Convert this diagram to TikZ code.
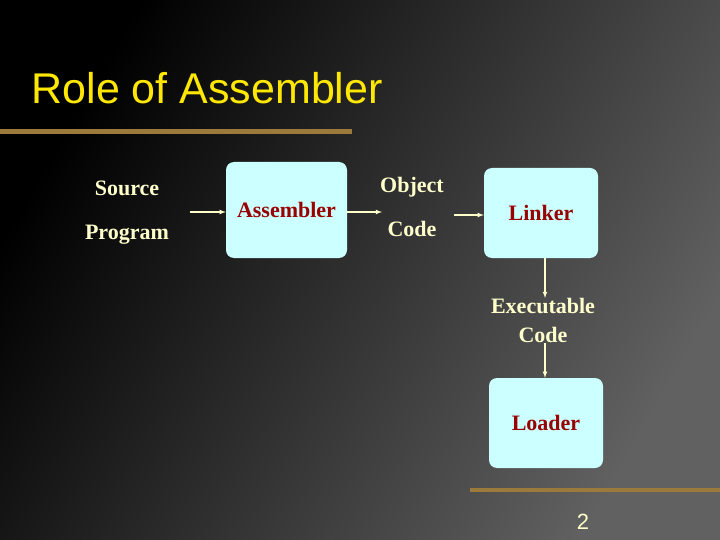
\documentclass[tikz,border=0pt]{standalone}
\usepackage{fontspec}
\setmainfont{Liberation Serif}
\newfontfamily\titlefont{Liberation Sans}
\usetikzlibrary{positioning}
\definecolor{cream}{HTML}{FFFFCC}
\definecolor{darkred}{HTML}{990000}
\definecolor{boxcyan}{HTML}{CCFFFF}
\definecolor{bargold}{HTML}{9C7A3C}

\tikzset{
	stage/.style={draw=none,fill=boxcyan,rounded corners=8pt,
		font=\fontsize{22}{26}\selectfont\bfseries,text=darkred},
	annot/.style={font=\fontsize{22}{44}\selectfont\bfseries,text=cream,align=center},
	flow/.style={-latex,cream,line width=1.1pt}
}

\begin{document}
\begin{tikzpicture}[x=1pt,y=-1pt]
	\useasboundingbox (0,0) rectangle (720,540);
	\shade[shading=axis,top color=black,bottom color=black!62!white,shading angle=60] (0,0) rectangle (720,540);
	\fill[bargold] (0,129) rectangle (352,134);
	\fill[bargold] (470,488) rectangle (720,492);
	\node[anchor=west,font=\titlefont\fontsize{43}{48}\selectfont,text=yellow!90!orange] (title) at (28,88) {Role of Assembler};
	\node[annot] (source) at (127,213) {Source\\Program};
	\node[stage,minimum width=121pt,minimum height=96pt] (assembler) at (286.5,210) {Assembler};
	\node[annot] (object) at (412,207) {Object\\Code};
	\node[stage,minimum width=114pt,minimum height=90pt] (linker) at (541,213) {Linker};
	\node[annot,font=\fontsize{22}{29}\selectfont\bfseries] (exec) at (543,320) {Executable\\Code};
	\node[stage,minimum width=114pt,minimum height=90pt] (loader) at (546,423) {Loader};
	\node[font=\titlefont\fontsize{22}{24}\selectfont,text=cream] (page) at (583,522) {2};
	\coordinate (in) at (190,212);
	\coordinate (objout) at (382,212);
	\coordinate (objin) at (454,215);
	\coordinate (down) at (545,0);
	\coordinate (execin) at (545,298);
	\coordinate (execout) at (545,343);
	\draw[flow] (in) -- (in -| assembler.west);
	\draw[flow] (assembler.east |- in) -- (objout);
	\draw[flow] (objin) -- (objin -| linker.west);
	\draw[flow] (down |- linker.south) -- (execin);
	\draw[flow] (execout) -- (down |- loader.north);
\end{tikzpicture}
\end{document}
